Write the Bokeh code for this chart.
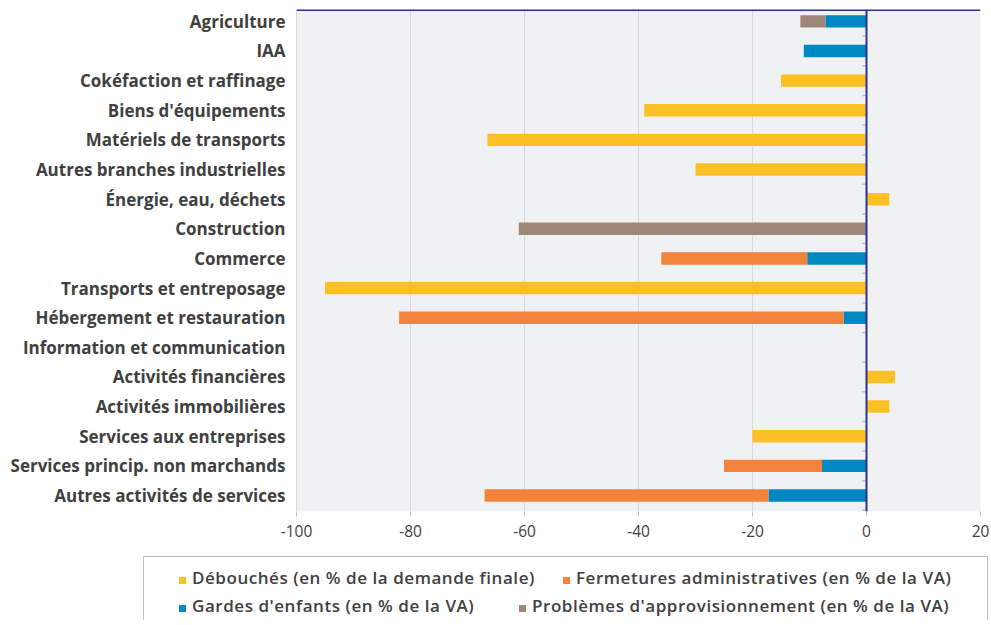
from bokeh.plotting import figure
from bokeh.models import ColumnDataSource, Range1d, FixedTicker, Span, LinearAxis, Div
from bokeh.layouts import column
from bokeh.embed import file_html
from bokeh.resources import INLINE

categories = [
    "Agriculture", "IAA", "Cokéfaction et raffinage", "Biens d'équipements",
    "Matériels de transports", "Autres branches industrielles",
    "Énergie, eau, déchets", "Construction", "Commerce",
    "Transports et entreposage", "Hébergement et restauration",
    "Information et communication", "Activités financières",
    "Activités immobilières", "Services aux entreprises",
    "Services princip. non marchands", "Autres activités de services",
]
debouches = [0, 0, -15, -39, -66.5, -30, 4, 0, 0, -95, 0, 0, 5, 4, -20, 0, 0]
fermetures = [0, 0, 0, 0, 0, 0, 0, 0, -25.6, 0, -78, 0, 0, 0, 0, -17.2, -49.8]
gardes = [-7.2, -11, 0, 0, 0, 0, 0, 0, -10.4, 0, -4, 0, 0, 0, 0, -7.8, -17.2]
appro = [-4.4, 0, 0, 0, 0, 0, 0, -61, 0, 0, 0, 0, 0, 0, 0, 0, 0]

series_keys = ["gardes", "fermetures", "appro", "debouches"]
colors = {"debouches": "#FDBF26", "fermetures": "#F2823C",
          "gardes": "#0088C2", "appro": "#9E8678"}
legend_rows = [
    [("debouches", "Débouchés (en % de la demande finale)"),
     ("fermetures", "Fermetures administratives (en % de la VA)")],
    [("gardes", "Gardes d'enfants (en % de la VA)"),
     ("appro", "Problèmes d'approvisionnement (en % de la VA)")],
]
x_ticks = [-100, -80, -60, -40, -20, 0, 20]
x_tick_labels = ["-100", "-80", "-60", "-40", "-20", "0", "20"]

FONT = "Open Sans"
TXT = "#404040"
NAVY = "#2E3192"

n = len(categories)
ys = list(range(n))
source = ColumnDataSource(dict(y=ys, debouches=debouches, fermetures=fermetures,
                               gardes=gardes, appro=appro))

W = 991
p = figure(width=W, height=548, output_backend="svg", toolbar_location=None,
           x_range=Range1d(-100, 20), y_range=Range1d(n - 1 + 0.54, -0.40),
           x_axis_location=None, y_axis_location=None,
           min_border_left=296, min_border_right=11, min_border_top=9,
           min_border_bottom=37)
p.background_fill_color = "#F0F1F3"
p.border_fill_color = "white"
p.outline_line_color = None

p.hbar_stack(series_keys, y="y", height=0.42, source=source,
             color=[colors[k] for k in series_keys], line_color=None)

xa = LinearAxis(ticker=FixedTicker(ticks=x_ticks),
                major_label_overrides={t: l for t, l in zip(x_ticks, x_tick_labels)})
xa.axis_line_color = None
xa.major_tick_line_color = "#BFBFBF"
xa.major_tick_in = 0
xa.major_tick_out = 5
xa.minor_tick_line_color = None
xa.major_label_text_font = FONT
xa.major_label_text_font_size = "15.5px"
xa.major_label_text_color = TXT
xa.major_label_standoff = 8
p.add_layout(xa, "below")

ya = LinearAxis(ticker=FixedTicker(ticks=ys),
                major_label_overrides={i: c for i, c in enumerate(categories)})
ya.axis_line_color = "#D9D9D9"
ya.major_tick_line_color = None
ya.minor_tick_line_color = None
ya.major_label_text_font = FONT
ya.major_label_text_font_style = "bold"
ya.major_label_text_font_size = "17px"
ya.major_label_text_color = TXT
ya.major_label_standoff = 5
p.add_layout(ya, "left")

p.xgrid.ticker = FixedTicker(ticks=x_ticks)
p.xgrid.grid_line_color = "#D9D9D9"
p.ygrid.grid_line_color = None

bounds = [i - 0.5 for i in range(n + 1)]
p.segment(x0=[-0.8] * len(bounds), x1=[0] * len(bounds), y0=bounds, y1=bounds,
          line_color="#BFBFBF", line_width=1.5)

p.add_layout(Span(location=0, dimension="height", line_color=NAVY, line_width=2))
p.add_layout(Span(location=-0.40, dimension="width", line_color=NAVY, line_width=3))

# legend as an HTML block below the chart
row_y = [30, 58]
item_x = [[179, 563], [179, 519]]
parts = [
    f'<div style="position:relative;width:{W}px;height:72px;overflow:hidden;'
    f'font-family:\'{FONT}\';font-size:17px;font-weight:600;letter-spacing:0.55px;'
    f'color:{TXT};">',
    '<div style="position:absolute;left:143px;top:8px;width:845px;height:90px;'
    'border:1px solid #BFBFBF;border-bottom:none;"></div>',
]
for r, row in enumerate(legend_rows):
    for c, (key, label) in enumerate(row):
        x0 = item_x[r][c]
        cy = row_y[r]
        parts.append(f'<div style="position:absolute;left:{x0}px;top:{cy - 1}px;'
                     f'width:7px;height:7px;background:{colors[key]};"></div>')
        parts.append(f'<div style="position:absolute;left:{x0 + 13}px;top:{cy - 12}px;'
                     f'line-height:24px;white-space:nowrap;">{label}</div>')
parts.append('</div>')
div = Div(text="".join(parts), width=W, height=72, margin=0)

layout = column(p, div, spacing=0)
open("out.html", "w").write(file_html(layout, INLINE))
